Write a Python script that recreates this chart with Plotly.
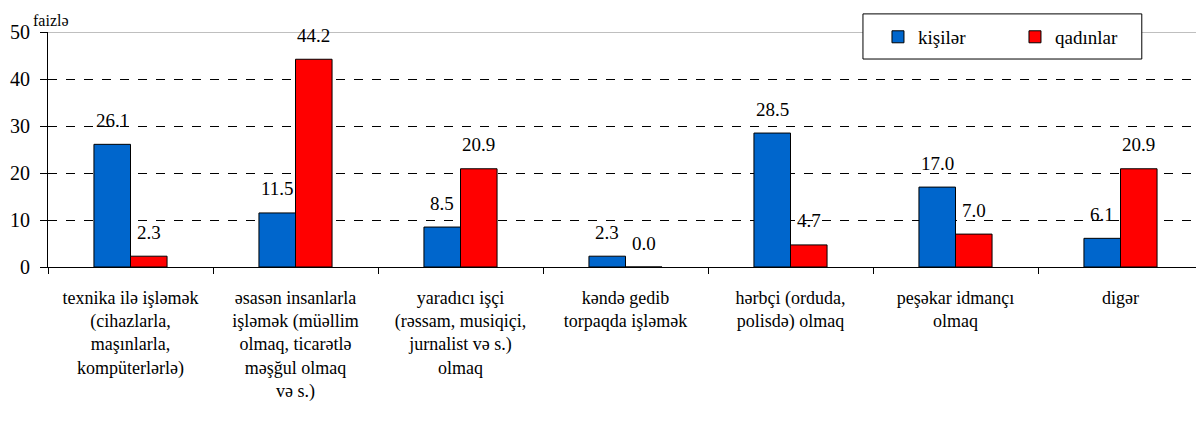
import plotly.graph_objects as go

categories = [
    "texnika ilə işləmək<br>(cihazlarla,<br>maşınlarla,<br>kompüterlərlə)",
    "əsasən insanlarla<br>işləmək (müəllim<br>olmaq, ticarətlə<br>məşğul olmaq<br>və s.)",
    "yaradıcı işçi<br>(rəssam, musiqiçi,<br>jurnalist və s.)<br>olmaq",
    "kəndə gedib<br>torpaqda işləmək",
    "hərbçi (orduda,<br>polisdə) olmaq",
    "peşəkar idmançı<br>olmaq",
    "digər",
]
kisiler = [26.1, 11.5, 8.5, 2.3, 28.5, 17.0, 6.1]
qadinlar = [2.3, 44.2, 20.9, 0.0, 4.7, 7.0, 20.9]
y_ticks = [0, 10, 20, 30, 40, 50]

FONT = "Liberation Serif, Times New Roman, Times, serif"
BLUE = "#0066CC"
RED = "#FF0000"

fig = go.Figure()
fig.add_trace(go.Bar(name="kişilər", x=categories, y=kisiler, marker=dict(color=BLUE, line=dict(color="black", width=1))))
fig.add_trace(go.Bar(name="qadınlar", x=categories, y=qadinlar, marker=dict(color=RED, line=dict(color="black", width=1))))

for series, shift in ((kisiler, -18.25), (qadinlar, 18.25)):
    for c, v in zip(categories, series):
        fig.add_annotation(x=c, y=v, xref="x", yref="y", text=f"{v:.1f}", showarrow=False,
                           xshift=shift, yshift=24, font=dict(family=FONT, size=19, color="black"))

fig.add_annotation(x=0, y=1.0, xref="paper", yref="paper", xanchor="left", yanchor="bottom",
                   xshift=-16, yshift=2, borderpad=0, text="faizlə", showarrow=False,
                   font=dict(family=FONT, size=16, color="black"))

fig.add_shape(type="line", xref="paper", yref="y", x0=0, x1=1, y0=50, y1=50,
              line=dict(color="#808080", width=1), layer="above")
fig.add_shape(type="rect", xref="paper", yref="paper", x0=0.7056, x1=0.947, y0=0.885, y1=1.077,
              line=dict(color="black", width=1), fillcolor="white", layer="above")

fig.update_layout(
    width=1196, height=422,
    margin=dict(l=40, r=1, t=24, b=163, autoexpand=False),
    paper_bgcolor="white", plot_bgcolor="white",
    barmode="group", bargap=0.557, bargroupgap=0,
    font=dict(family=FONT, size=17, color="black"),
    legend=dict(orientation="h", x=0.7186, xanchor="left", y=0.979, yanchor="middle",
                bgcolor="rgba(0,0,0,0)", borderwidth=0,
                font=dict(family=FONT, size=19), entrywidth=92),
    showlegend=True,
)
fig.update_xaxes(showline=True, linecolor="black", linewidth=1, ticks="outside", ticklen=6,
                 tickcolor="black", tickson="boundaries", showgrid=False, automargin=False,
                 tickfont=dict(family=FONT, size=18), tickangle=0, ticklabelstandoff=14)
fig.update_yaxes(range=[0, 50], tickvals=y_ticks, showline=True, linecolor="black", linewidth=1,
                 ticks="outside", ticklen=7, tickcolor="black", ticklabelstandoff=6, automargin=False,
                 showgrid=True, gridcolor="black", griddash="dash", gridwidth=1,
                 zeroline=False, tickfont=dict(family=FONT, size=20))

fig.write_html("out.html")
